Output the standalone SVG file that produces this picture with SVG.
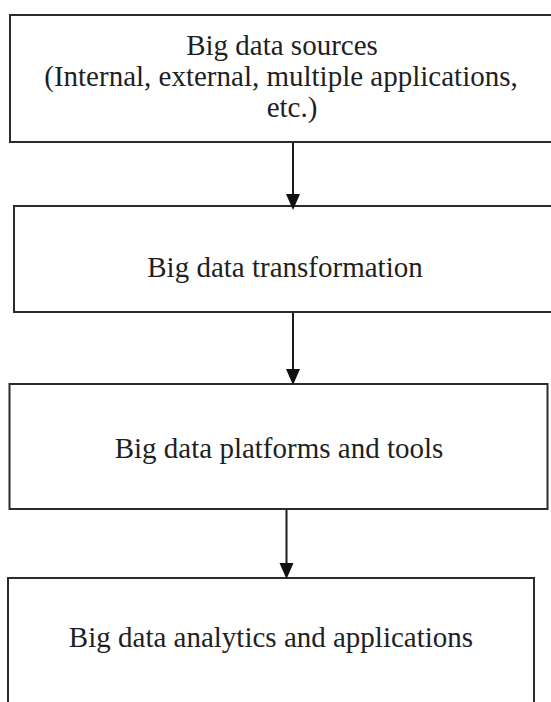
<svg xmlns="http://www.w3.org/2000/svg" width="551" height="702" viewBox="0 0 551 702">
  <style>
    .box { fill: #ffffff; stroke: #2b2b2b; stroke-width: 2; }
    .label { font-family: "Liberation Serif", "Times New Roman", serif; font-size: 29px; fill: #1f1f1f; text-anchor: middle; }
    .link { stroke: #1a1a1a; stroke-width: 2; fill: none; }
    .head { fill: #111111; }
  </style>
  <rect width="551" height="702" fill="#ffffff"/>

  <g id="sources">
    <rect class="box" x="10" y="15" width="545" height="127"/>
    <text class="label" x="282" y="55">Big data sources</text>
    <text class="label" x="281" y="86">(Internal, external, multiple applications,</text>
    <text class="label" x="292" y="117">etc.)</text>
  </g>

  <g id="transformation">
    <rect class="box" x="14" y="206" width="545" height="106"/>
    <text class="label" x="285" y="277">Big data transformation</text>
  </g>

  <g id="platforms">
    <rect class="box" x="9.5" y="384" width="538" height="125"/>
    <text class="label" x="279" y="458">Big data platforms and tools</text>
  </g>

  <g id="analytics">
    <rect class="box" x="8" y="578" width="526" height="140"/>
    <text class="label" x="271" y="647">Big data analytics and applications</text>
  </g>

  <!-- downward flow arrows: shaft + filled head touching the next box -->
  <g id="connectors">
    <line class="link" x1="293" y1="143" x2="293" y2="200"/>
    <path class="head" d="M286,194 L300,194 L293,210 Z"/>
    <line class="link" x1="293" y1="313" x2="293" y2="375"/>
    <path class="head" d="M286,369 L300,369 L293,385 Z"/>
    <line class="link" x1="286.5" y1="510" x2="286.5" y2="570"/>
    <path class="head" d="M279.5,563 L293.5,563 L286.5,579 Z"/>
  </g>
</svg>
